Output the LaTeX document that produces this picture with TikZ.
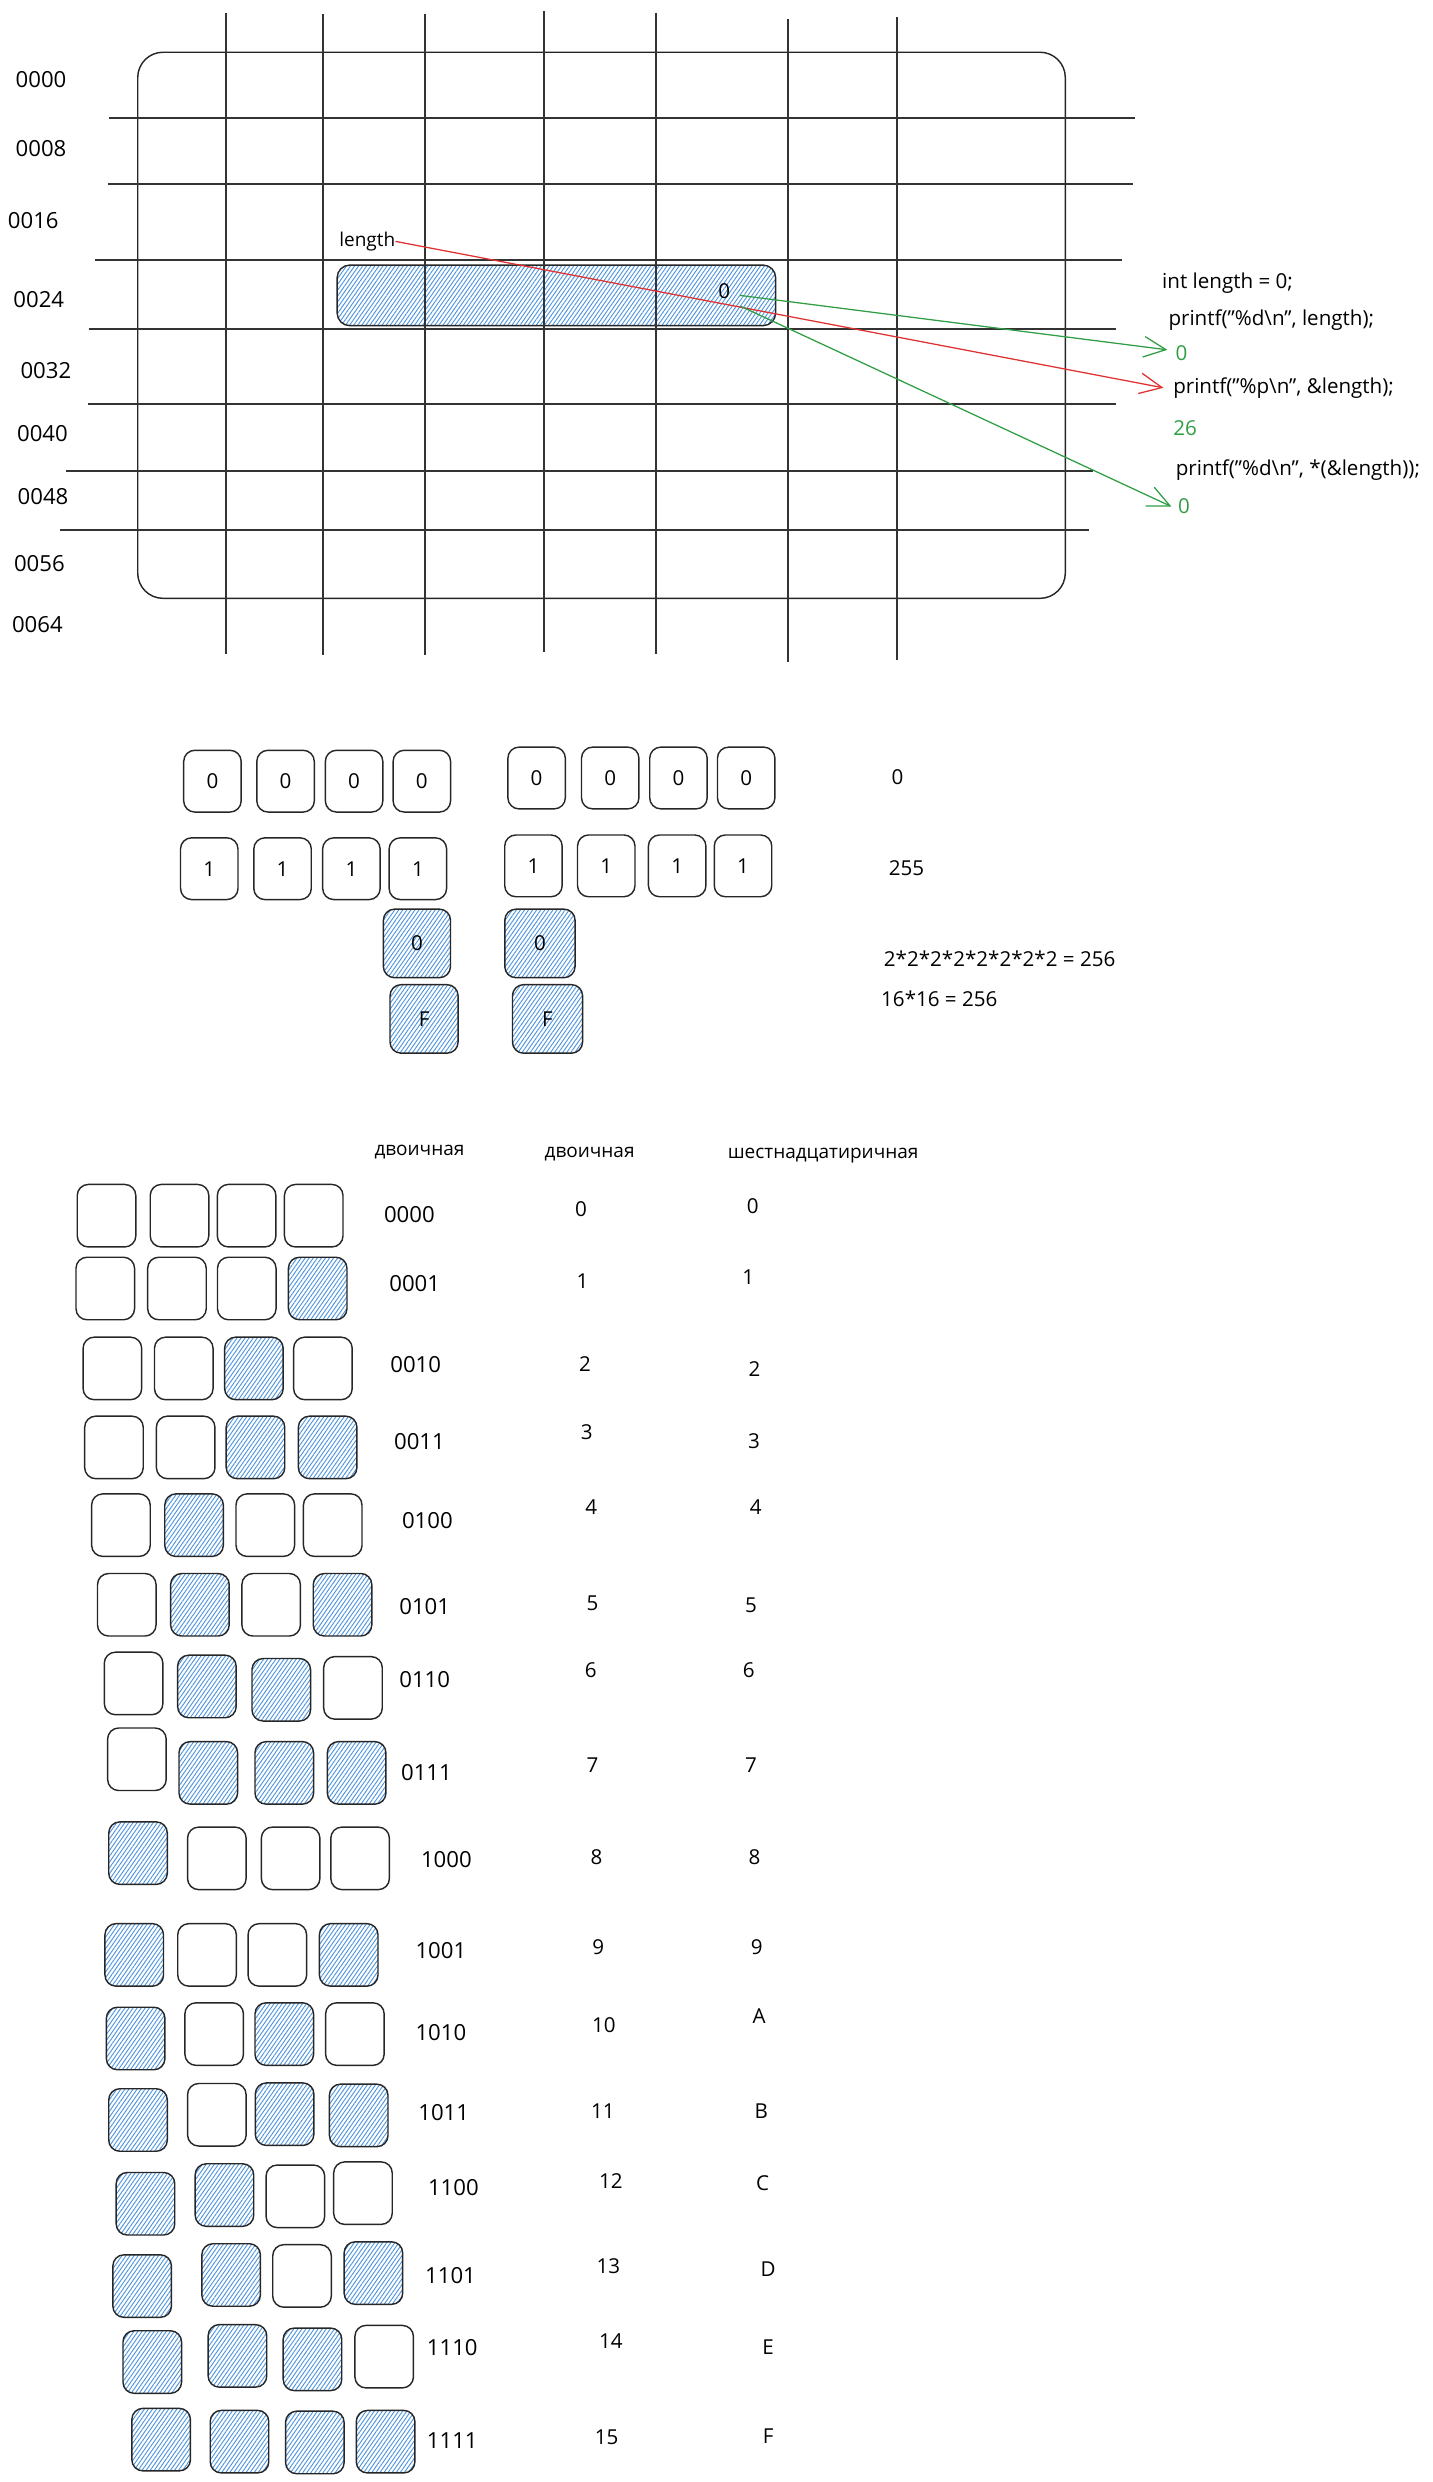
\documentclass[tikz,border=0pt]{standalone}
\usepackage{fontspec}
\setmainfont{Open Sans}
\usetikzlibrary{arrows.meta,patterns.meta}
\definecolor{hatchblue}{RGB}{80,150,222}
\definecolor{arrred}{RGB}{224,49,49}
\definecolor{arrgreen}{RGB}{47,158,68}
\tikzset{
 gridline/.style={line width=1.25pt, draw=black!80},
 cell/.style={draw=black!85, line width=0.9pt, rounded corners=7pt, minimum width=37pt, minimum height=39.5pt, inner sep=0pt, font=\fontsize{13}{13}\selectfont},
 hcell/.style={cell, pattern={Lines[angle=55,distance=2.1pt,line width=0.6pt]}, pattern color=hatchblue},
 lbl/.style={font=\fontsize{14}{14}\selectfont, inner sep=0pt},
 num/.style={font=\fontsize{13}{13}\selectfont, inner sep=0pt},
 code/.style={font=\fontsize{13}{13}\selectfont, anchor=west, inner sep=0pt},
 hdr/.style={font=\fontsize{12}{12}\selectfont, inner sep=0pt},
 arr/.style={line width=0.8pt, -{Straight Barb[length=14pt,width=13pt,line width=0.8pt]}},
}
\begin{document}
\begin{tikzpicture}[x=1pt,y=-1pt]
\useasboundingbox (0,0) rectangle (905,1568);
% ---------- memory grid ----------
\node[draw=black!85, line width=0.9pt, rounded corners=16pt, minimum width=586pt, minimum height=345pt, inner sep=0pt] (mem) at (380,205.5) {};
\node[hcell, minimum width=277pt, minimum height=38.3pt, rounded corners=8pt] (lenbox) at (351.5,186.6) {};
% horizontal lines
\draw[gridline] (69,74.5) -- (717,74.5);
\draw[gridline] (68,116.4) -- (716,116.4);
\draw[gridline] (60,164.2) -- (709,164.2);
\draw[gridline] (56,207.7) -- (705,207.7);
\draw[gridline] (55.5,255.5) -- (705,255.5);
\draw[gridline] (41.6,297.4) -- (690.5,297.4);
\draw[gridline] (38,334.8) -- (688,334.8);
% vertical lines
\draw[gridline] (142.6,8) -- (142.6,413);
\draw[gridline] (204.2,9) -- (204.2,414);
\draw[gridline] (268.6,9) -- (268.6,414);
\draw[gridline] (343.6,7) -- (343.6,412);
\draw[gridline] (414.5,8) -- (414.5,413);
\draw[gridline] (497.8,12) -- (497.8,418);
\draw[gridline] (566.4,11) -- (566.4,417);
% addresses
\node[lbl] (a0) at (25.9,50.5) {0000};
\node[lbl] (a8) at (25.9,93.7) {0008};
\node[lbl] (a16) at (21,139.6) {0016};
\node[lbl] (a24) at (24.5,189.4) {0024};
\node[lbl] (a32) at (29,234) {0032};
\node[lbl] (a40) at (26.8,274) {0040};
\node[lbl] (a48) at (27.2,313.8) {0048};
\node[lbl] (a56) at (24.9,356) {0056};
\node[lbl] (a64) at (23.6,394.4) {0064};
\node[hdr] (lenlbl) at (232,152.5) {length};
\node[num] (val) at (457.5,184) {0};
% code
\node[code] (c1) at (734,179) {int length = 0;};
\node[code] (c2) at (738,202) {printf("\%d\textbackslash n", length);};
\node[code, text=arrgreen] (g1) at (742.5,223) {0};
\node[code] (c3) at (741,245) {printf("\%p\textbackslash n", \&length);};
\node[code, text=arrgreen] (g2) at (741,270.6) {26};
\node[code] (c4) at (742.6,297) {printf("\%d\textbackslash n", *(\&length));};
\node[code, text=arrgreen] (g3) at (744,320) {0};
% arrows
\draw[arr, draw=arrred] (lenlbl.east) -- ([xshift=-6pt]c3.west);
\draw[arr, draw=arrgreen] ([xshift=6pt,yshift=-2.6pt]val.east) -- ([xshift=-5pt,yshift=2pt]g1.west);
\draw[arr, draw=arrgreen] ([xshift=6.5pt,yshift=-9.5pt]val.east) -- ([xshift=-4pt]g3.west);
% ---------- byte examples ----------
\node[cell, minimum width=36.3pt, minimum height=39pt] (m1a) at (134.2,493.5) {0};
\node[cell, minimum width=36.3pt, minimum height=39pt] (m1b) at (180.4,493.5) {0};
\node[cell, minimum width=36.3pt, minimum height=39pt] (m1c) at (223.7,493.5) {0};
\node[cell, minimum width=36.3pt, minimum height=39pt] (m1d) at (266.5,493.5) {0};
\node[cell, minimum width=36.3pt, minimum height=39pt] (m1e) at (339,491.5) {0};
\node[cell, minimum width=36.3pt, minimum height=39pt] (m1f) at (385.5,491.5) {0};
\node[cell, minimum width=36.3pt, minimum height=39pt] (m1g) at (428.6,491.5) {0};
\node[cell, minimum width=36.3pt, minimum height=39pt] (m1h) at (471.4,491.5) {0};
\node[cell, minimum width=36.3pt, minimum height=39pt] (m2a) at (132.2,548.8) {1};
\node[cell, minimum width=36.3pt, minimum height=39pt] (m2b) at (178.5,548.8) {1};
\node[cell, minimum width=36.3pt, minimum height=39pt] (m2c) at (222,548.8) {1};
\node[cell, minimum width=36.3pt, minimum height=39pt] (m2d) at (264,548.8) {1};
\node[cell, minimum width=36.3pt, minimum height=39pt] (m2e) at (337,547) {1};
\node[cell, minimum width=36.3pt, minimum height=39pt] (m2f) at (383,547) {1};
\node[cell, minimum width=36.3pt, minimum height=39pt] (m2g) at (427.8,547) {1};
\node[cell, minimum width=36.3pt, minimum height=39pt] (m2h) at (469.4,547) {1};
\node[hcell, minimum width=42.4pt, minimum height=43.3pt] (m3a) at (263.4,596) {0};
\node[hcell, minimum width=44.4pt, minimum height=43.3pt] (m3b) at (341.1,596) {0};
\node[hcell, minimum width=43pt, minimum height=43.3pt] (m4a) at (267.9,643.7) {F};
\node[hcell, minimum width=44.3pt, minimum height=43.3pt] (m4b) at (345.9,643.7) {F};
\node[num] (v0) at (567,491) {0};
\node[num] (v255) at (572.7,548.4) {255};
\node[num] (pow) at (631.5,605.7) {2*2*2*2*2*2*2*2 = 256};
\node[num] (sq) at (593.4,631) {16*16 = 256};
% ---------- table ----------
\node[hdr] (h1) at (265,728) {двоичная};
\node[hdr] (h2) at (372.5,729) {двоичная};
\node[hdr] (h3) at (520,730) {шестнадцатиричная};
% row 0
\node[cell] (t0a) at (67.3,768) {};
\node[cell] (t0b) at (113.4,768) {};
\node[cell] (t0c) at (155.8,768) {};
\node[cell] (t0d) at (198.2,768) {};
% row 1
\node[cell] (t1a) at (66.5,814) {};
\node[cell] (t1b) at (111.8,814) {};
\node[cell] (t1c) at (155.9,814) {};
\node[hcell] (t1d) at (200.7,814) {};
% row 2
\node[cell] (t2a) at (71,864.5) {};
\node[cell] (t2b) at (116.1,864.5) {};
\node[hcell] (t2c) at (160.4,864.5) {};
\node[cell] (t2d) at (204,864.5) {};
% row 3
\node[cell] (t3a) at (72,914.4) {};
\node[cell] (t3b) at (117.3,914.4) {};
\node[hcell] (t3c) at (161.4,914.4) {};
\node[hcell] (t3d) at (207,914.4) {};
% row 4
\node[cell] (t4a) at (76.4,963.5) {};
\node[hcell] (t4b) at (122.6,963.5) {};
\node[cell] (t4c) at (167.6,963.5) {};
\node[cell] (t4d) at (210.2,963.5) {};
% row 5
\node[cell] (t5a) at (80.1,1013.8) {};
\node[hcell] (t5b) at (126.3,1013.8) {};
\node[cell] (t5c) at (171.3,1013.8) {};
\node[hcell] (t5d) at (216.4,1013.8) {};
% row 6
\node[cell] (t6a) at (84.4,1063.5) {};
\node[hcell] (t6b) at (130.7,1065.4) {};
\node[hcell] (t6c) at (177.7,1067.5) {};
\node[cell] (t6d) at (223,1066.3) {};
% row 7
\node[cell] (t7a) at (86.5,1111.4) {};
\node[hcell] (t7b) at (131.6,1120) {};
\node[hcell] (t7c) at (179.6,1120) {};
\node[hcell] (t7d) at (225.3,1120) {};
% row 8
\node[hcell] (t8a) at (87.2,1170.7) {};
\node[cell] (t8b) at (137,1174) {};
\node[cell] (t8c) at (183.6,1174) {};
\node[cell] (t8d) at (227.5,1174) {};
% row 9
\node[hcell] (t9a) at (84.8,1235) {};
\node[cell] (t9b) at (130.8,1235) {};
\node[cell] (t9c) at (175.2,1235) {};
\node[hcell] (t9d) at (220.3,1235) {};
% row 10
\node[hcell] (t10a) at (85.7,1287.8) {};
\node[cell] (t10b) at (135.3,1285) {};
\node[hcell] (t10c) at (179.6,1285) {};
\node[cell] (t10d) at (224.2,1285) {};
% row 11
\node[hcell] (t11a) at (87.2,1339.3) {};
\node[cell] (t11b) at (137,1336) {};
\node[hcell] (t11c) at (179.8,1335.6) {};
\node[hcell] (t11d) at (226.6,1336.4) {};
% row 12
\node[hcell] (t12a) at (91.9,1392.2) {};
\node[hcell] (t12b) at (141.8,1386.7) {};
\node[cell] (t12c) at (186.6,1387.5) {};
\node[cell] (t12d) at (229.3,1385.5) {};
% row 13
\node[hcell] (t13a) at (89.8,1444.2) {};
\node[hcell] (t13b) at (146,1437.2) {};
\node[cell] (t13c) at (190.8,1437.8) {};
\node[hcell] (t13d) at (235.9,1436) {};
% row 14
\node[hcell] (t14a) at (96.2,1492.2) {};
\node[hcell] (t14b) at (150,1488.3) {};
\node[hcell] (t14c) at (197.4,1490.5) {};
\node[cell] (t14d) at (242.7,1488.8) {};
% row 15
\node[hcell] (t15a) at (101.8,1541.2) {};
\node[hcell] (t15b) at (151.3,1542.5) {};
\node[hcell] (t15c) at (198.9,1543) {};
\node[hcell] (t15d) at (243.6,1542.5) {};
% binary labels
\node[lbl] (b0) at (258.6,767) {0000};
\node[lbl] (b1) at (262,811) {0001};
\node[lbl] (b2) at (262.6,862) {0010};
\node[lbl] (b3) at (265,911) {0011};
\node[lbl] (b4) at (270,960.4) {0100};
\node[lbl] (b5) at (268.3,1015) {0101};
\node[lbl] (b6) at (268.3,1061) {0110};
\node[lbl] (b7) at (269.4,1119.8) {0111};
\node[lbl] (b8) at (282,1174.6) {1000};
\node[lbl] (b9) at (278.5,1232.5) {1001};
\node[lbl] (b10) at (278.5,1284) {1010};
\node[lbl] (b11) at (280.3,1334.5) {1011};
\node[lbl] (b12) at (286.4,1381.9) {1100};
\node[lbl] (b13) at (284.6,1437.7) {1101};
\node[lbl] (b14) at (285.7,1483) {1110};
\node[lbl] (b15) at (285.7,1541.9) {1111};
% decimal
\node[num] (d0) at (367,764) {0};
\node[num] (d1) at (368,809.5) {1};
\node[num] (d2) at (369.6,862) {2};
\node[num] (d3) at (370.7,905) {3};
\node[num] (d4) at (373.6,952.4) {4};
\node[num] (d5) at (374.3,1013) {5};
\node[num] (d6) at (373.2,1055) {6};
\node[num] (d7) at (374.3,1115.2) {7};
\node[num] (d8) at (376.8,1173.5) {8};
\node[num] (d9) at (377.9,1230.4) {9};
\node[num] (d10) at (381.5,1279.4) {10};
\node[num] (d11) at (380.8,1333.5) {11};
\node[num] (d12) at (385.9,1377.7) {12};
\node[num] (d13) at (384.4,1431.4) {13};
\node[num] (d14) at (385.9,1479.2) {14};
\node[num] (d15) at (383.3,1539.4) {15};
% hex
\node[num] (x0) at (475.6,761.7) {0};
\node[num] (x1) at (472.7,807) {1};
\node[num] (x2) at (476.7,864.7) {2};
\node[num] (x3) at (476.3,910.3) {3};
\node[num] (x4) at (477.4,952.4) {4};
\node[num] (x5) at (474.5,1014) {5};
\node[num] (x6) at (473,1055) {6};
\node[num] (x7) at (474.5,1115) {7};
\node[num] (x8) at (476.7,1173.5) {8};
\node[num] (x9) at (478,1230.4) {9};
\node[num] (xA) at (479.5,1273.5) {A};
\node[num] (xB) at (481,1334) {B};
\node[num] (xC) at (481.7,1379.4) {C};
\node[num] (xD) at (485.3,1433.5) {D};
\node[num] (xE) at (485.3,1483) {E};
\node[num] (xF) at (485.3,1538.8) {F};
\end{tikzpicture}
\end{document}
